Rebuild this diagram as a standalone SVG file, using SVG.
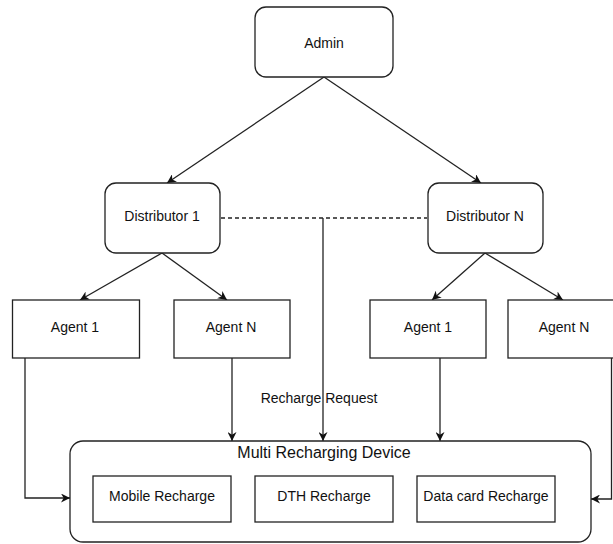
<svg xmlns="http://www.w3.org/2000/svg" width="613" height="544" viewBox="0 0 613 544">
<defs>
<marker id="arr" viewBox="0 0 10 10" refX="10" refY="5" markerWidth="9" markerHeight="9" markerUnits="userSpaceOnUse" orient="auto">
<path d="M0,0 L10,5 L0,10 L3,5 Z" fill="#111"/>
</marker>
</defs>
<style>
.box{fill:#fff;stroke:#222;stroke-width:1.3}
.lbl{font-family:"Liberation Sans",Arial,sans-serif;font-size:14px;fill:#111;text-anchor:middle;dominant-baseline:central}
.big{font-size:16px}
.ln{fill:none;stroke:#222;stroke-width:1.3}
.arr{marker-end:url(#arr)}
.dash{stroke-dasharray:4 3}
</style>
<rect width="613" height="544" fill="#fff"/>
<g id="connectors">
<line class="ln arr" x1="324" y1="77" x2="167" y2="183"/>
<line class="ln arr" x1="324" y1="77" x2="481" y2="183"/>
<line class="ln arr" x1="162" y1="253" x2="80" y2="300"/>
<line class="ln arr" x1="162" y1="253" x2="227" y2="300"/>
<line class="ln arr" x1="485" y1="253" x2="432" y2="300"/>
<line class="ln arr" x1="485" y1="253" x2="563" y2="300"/>
<line class="ln dash" x1="221" y1="218" x2="427" y2="218"/>
<line class="ln arr" x1="323" y1="218" x2="323" y2="441"/>
<polyline class="ln arr" points="25,358 25,498 70,498"/>
<line class="ln arr" x1="232" y1="358" x2="232" y2="441"/>
<line class="ln arr" x1="440" y1="358" x2="440" y2="441"/>
<polyline class="ln arr" points="611.5,358 611.5,499 591,499"/>
<text class="lbl" x="319" y="398">Recharge Request</text>
</g>
<g id="admin"><rect class="box" x="255" y="7" width="138" height="70" rx="11"/><text class="lbl" x="324" y="43">Admin</text></g>
<g id="distributor1"><rect class="box" x="105" y="183" width="115" height="70" rx="11"/><text class="lbl" x="162" y="216">Distributor 1</text></g>
<g id="distributorN"><rect class="box" x="428" y="183" width="115" height="70" rx="11"/><text class="lbl" x="485" y="216">Distributor N</text></g>
<g id="agent1a"><rect class="box" x="12.5" y="300" width="127" height="58"/><text class="lbl" x="75" y="327">Agent 1</text></g>
<g id="agentNa"><rect class="box" x="174" y="300" width="116" height="58"/><text class="lbl" x="231" y="327">Agent N</text></g>
<g id="agent1b"><rect class="box" x="370" y="300" width="116" height="58"/><text class="lbl" x="428" y="327">Agent 1</text></g>
<g id="agentNb"><rect class="box" x="508" y="300" width="108" height="58"/><text class="lbl" x="564" y="327">Agent N</text></g>
<g id="device">
<rect class="box" x="70" y="441" width="521" height="101" rx="13"/>
<text class="lbl big" x="324" y="452">Multi Recharging Device</text>
</g>
<g id="mobile"><rect class="box" x="93" y="476" width="138" height="46"/><text class="lbl" x="162" y="496">Mobile Recharge</text></g>
<g id="dth"><rect class="box" x="255" y="476" width="138" height="46"/><text class="lbl" x="324" y="496">DTH Recharge</text></g>
<g id="datacard"><rect class="box" x="417" y="476" width="138" height="46"/><text class="lbl" x="486" y="496">Data card Recharge</text></g>
</svg>
